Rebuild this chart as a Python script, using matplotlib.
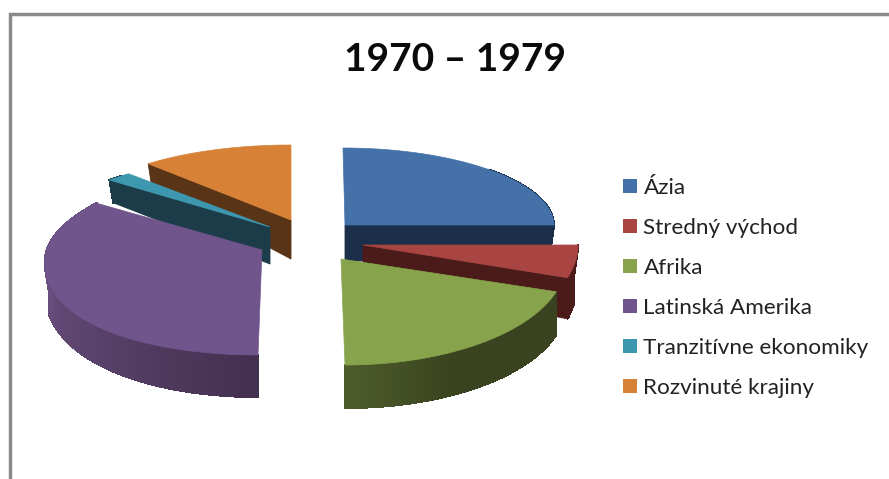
import numpy as np
import matplotlib
matplotlib.use("Agg")
import matplotlib.pyplot as plt
from matplotlib.collections import PolyCollection
from matplotlib.patches import Polygon, Patch

# Data
labels = ["Ázia", "Stredný východ", "Afrika", "Latinská Amerika", "Tranzitívne ekonomiky", "Rozvinuté krajiny"]
values = [25, 5, 20, 36.5, 2, 11.5]
title = "1970 – 1979"

# Colours: top surface, side near, side far
top_colors = ["#4471a8", "#a84543", "#87a44d", "#70558c", "#3d97ae", "#d78137"]
side_dark = ["#1b2f4a", "#4a1b18", "#39431f", "#43304f", "#1b3c48", "#5a3416"]
side_light = ["#1b2f4a", "#4a1b18", "#4e5c2b", "#6a5080", "#1b3c48", "#5a3416"]

# Layout per slice (pixels): apex x, apex y, radii, tilt, lean
apex = [(345, 225), (363, 245), (341, 259), (262, 250), (270, 227), (291, 220)]
radius_x = [209, 215, 225, 217, 214, 216]
ry_up = [77, 77, 77, 81, 71, 75]
ry_down = [106, 106, 106, 105, 106, 106]
tilt = [0, 0, 0, 12, 0, 0]
lean = [-2, 0, 4, -4, 0, 0]
# depth: rim = a + b*v, and at the apex
depth_a = [36, 33, 43, 28, 28, 29]
depth_b = [0, 26, 0, 14, 8, 10]
depth_apex = [36, 36, 43, 42, 37, 39]
cut_face = ["end", "end", None, None, "start", "start"]
draw_order = [0, 5, 4, 1, 3, 2]

fracs = np.array(values) / sum(values)
edges = np.concatenate([[0], np.cumsum(fracs)]) * 2 * np.pi

fig = plt.figure(figsize=(8.89, 4.79), dpi=100)
ax = fig.add_axes([0, 0, 1, 1])
ax.set_xlim(0, 889)
ax.set_ylim(479, 0)
ax.axis("off")


def rim_points(i, theta):
    u = np.sin(theta)
    v = -np.cos(theta)
    ry = np.where(v < 0, ry_up[i], ry_down[i])
    x = apex[i][0] + radius_x[i] * u + lean[i] * np.abs(v)
    y = apex[i][1] + ry * v + tilt[i] * u ** 2
    d = depth_a[i] + depth_b[i] * v
    # far corners shrink a little when pushed down
    x2 = x - 5 * u * (v < 0.2)
    return x, y, x2, y + d


def mix(c1, c2, t):
    a = np.array(matplotlib.colors.to_rgb(c1))
    b = np.array(matplotlib.colors.to_rgb(c2))
    return a + (b - a) * t


for i in draw_order:
    theta = np.linspace(edges[i], edges[i + 1], 300)
    x, y, x2, y2 = rim_points(i, theta)
    ax0, ay0 = apex[i]

    # flat cut face
    if cut_face[i]:
        k = -1 if cut_face[i] == "end" else 0
        ax.add_patch(Polygon([(ax0, ay0), (x[k], y[k]), (x2[k], y2[k]), (ax0, ay0 + depth_apex[i])],
                             fc=side_dark[i], ec=side_dark[i], lw=0.6, zorder=2))

    # outer rim, shaded strip by strip
    strips = []
    strip_colors = []
    for j in range(len(theta) - 1):
        if np.cos(theta[j]) > 0.72:
            continue
        if i == 3:
            t = np.clip((theta[j] - edges[i]) / (edges[i + 1] - edges[i]) * 1.5, 0, 1)
        else:
            t = np.clip((theta[j] - edges[i]) / (edges[i + 1] - edges[i]) - 0.6, 0, 0.4) / 0.4
        strips.append([(x[j], y[j]), (x[j + 1], y[j + 1]), (x2[j + 1], y2[j + 1]), (x2[j], y2[j])])
        strip_colors.append(mix(side_dark[i], side_light[i], t))
    ax.add_collection(PolyCollection(strips, facecolors=strip_colors, edgecolors="face", linewidths=0.8,
                                     antialiaseds=False, zorder=2))
    # each slice's top has to cover its own rim, then the next slice covers both
    pts = [(ax0, ay0)] + list(zip(x, y))
    ax.add_patch(Polygon(pts, fc=top_colors[i], ec=top_colors[i], lw=0.5, zorder=2))

# chart frame, top and left only
ax.plot([9.5, 9.5, 889], [479, 13.5, 13.5], color="#8a8a8a", lw=2.5, solid_joinstyle="miter", zorder=1)

ax.text(455, 59, title, ha="center", va="center", fontsize=28, fontweight="bold",
        family="Lato", color="#0a0a0a")

handles = [Patch(fc=c, ec="none") for c in top_colors]
ax.legend(handles, labels, loc="upper left", bbox_to_anchor=(616 / 889, 1 - 171 / 479), frameon=False,
          prop={"family": "Lato", "size": 16.2}, labelcolor="#222222", labelspacing=0.89,
          handlelength=0.62, handleheight=0.62, handletextpad=0.3, borderpad=0.3, borderaxespad=0)

fig.savefig("out.png", dpi=100)
